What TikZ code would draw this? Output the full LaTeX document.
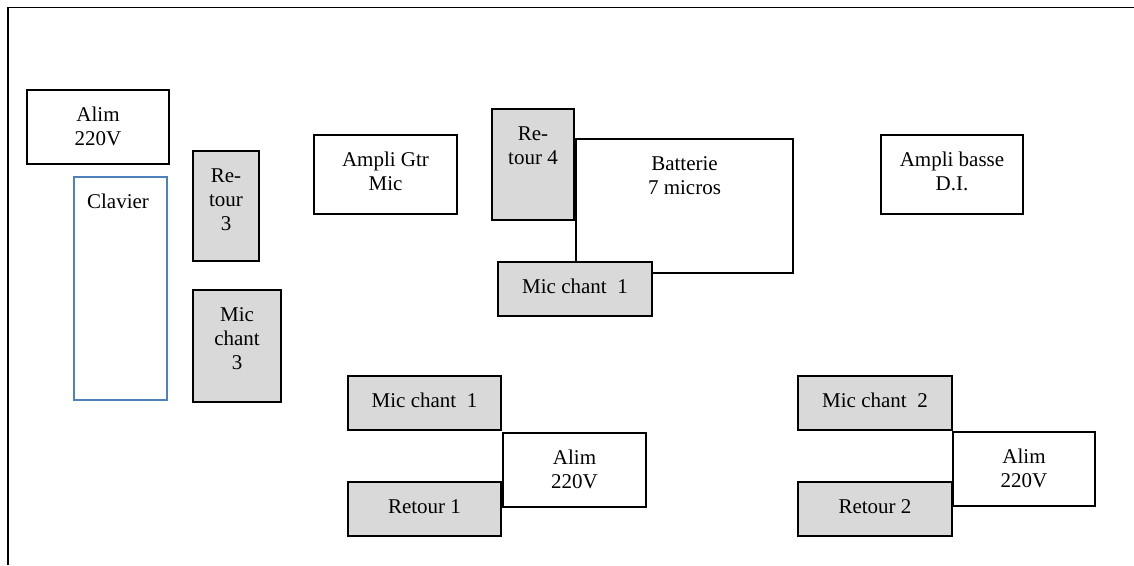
\documentclass[tikz,border=0pt]{standalone}
\usepackage{fontspec}
\setmainfont{Liberation Serif}
\definecolor{boxgray}{HTML}{D9D9D9}
\definecolor{clavblue}{HTML}{4F81BD}
\tikzset{
  box/.style={draw=black, line width=1.6pt, inner sep=0pt, outer sep=0pt, anchor=north west},
  gbox/.style={box, fill=boxgray},
  wbox/.style={box, fill=white},
  bbox/.style={box, draw=clavblue, fill=white},
  lbl/.style={anchor=north, inner sep=0pt, align=center, text=black, font=\fontsize{21}{24}\selectfont},
  frameline/.style={draw=black, line width=1.6pt},
}
% name, left, top, right, bottom, style, text
\newcommand\stagebox[7]{%
  \node[#6, minimum width={#4pt-#2pt}, minimum height={#5pt-#3pt}] (#1) at (#2,#3) {};
  \node[lbl] (#1-t) at ([yshift=-17.2pt]#1.north) {#7};
}
\begin{document}
\begin{tikzpicture}[x=1pt, y=-1pt]
\useasboundingbox (0,0) rectangle (1134,565);
\fill[white] (0,0) rectangle (1134,565);
% outer frame (left and top edges)
\coordinate (fbl) at (8,565);
\coordinate (ftl) at (8,7.5);
\coordinate (ftr) at (1134,7.5);
\draw[frameline] (fbl) -- (ftl) -- (ftr);

\stagebox{alimA}{27}{90}{169}{164}{wbox}{Alim\\220V}
\node[bbox, minimum width=93pt, minimum height=223pt] (clav) at (74,177) {};
\node[lbl] (clav-t) at ([xshift=-2.5pt, yshift=-17.2pt]clav.north) {Clavier};
\stagebox{ret3}{193}{151}{259}{261}{gbox}{Re-\\tour\\3}
\stagebox{mic3}{193}{290}{281}{402}{gbox}{Mic\\chant\\3}
\stagebox{ampgtr}{314}{135}{457}{214}{wbox}{Ampli Gtr\\Mic}
\stagebox{ret4}{492}{109}{574}{220}{gbox}{Re-\\tour 4}
\stagebox{batt}{576}{139}{793}{273}{wbox}{Batterie\\7 micros}
\stagebox{mica}{498}{262}{652}{316}{gbox}{Mic chant\ \ 1}
\stagebox{ampbas}{881}{135}{1023}{214}{wbox}{Ampli basse\\D.I.}
\stagebox{micb}{348}{376}{501}{430}{gbox}{Mic chant\ \ 1}
\stagebox{alimB}{503}{433}{646}{507}{wbox}{Alim\\220V}
\stagebox{ret1}{348}{482}{501}{536}{gbox}{Retour 1}
\stagebox{mic2}{798}{376}{952}{430}{gbox}{Mic chant\ \ 2}
\stagebox{alimC}{953}{432}{1095}{506}{wbox}{Alim\\220V}
\stagebox{ret2}{798}{482}{952}{536}{gbox}{Retour 2}
\end{tikzpicture}
\end{document}
